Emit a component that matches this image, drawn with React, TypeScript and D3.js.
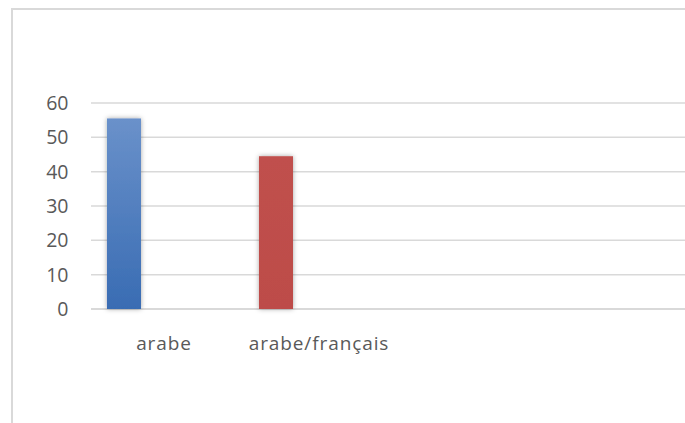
import React from "react";
import * as d3 from "d3";

const categories = ["arabe", "arabe/français"];
const values = [55.5, 44.5];
const barColors = ["blue", "red"];
const yTicks = [0, 10, 20, 30, 40, 50, 60];

const W = 685;
const H = 423;

export default function App() {
  const plotLeft = 91;
  const plotRight = 720;
  const x = d3
    .scaleBand<string>()
    .domain(categories)
    .range([88, 88 + 152 * categories.length])
    .paddingInner(0)
    .paddingOuter(0);
  // bar placement inside a category slot (first of several series slots)
  const slot = d3
    .scaleBand<string>()
    .domain(["s0", "s1", "s2"])
    .range([0, x.bandwidth()])
    .paddingInner(0)
    .paddingOuter(0.735)
    .align(0.38);
  const y = d3.scaleLinear().domain([0, 60]).range([309, 103]);

  const font = "'Open Sans', 'Liberation Sans', sans-serif";

  return (
    <svg
      width={W}
      height={H}
      style={{ position: "absolute", left: 0, top: 0, background: "#fff" }}
    >
      <defs>
        <linearGradient id="gBlue" x1="0" y1="0" x2="0" y2="1">
          <stop offset="0" stopColor="#6a91ca" />
          <stop offset="1" stopColor="#396cb3" />
        </linearGradient>
        <linearGradient id="gRed" x1="0" y1="0" x2="0" y2="1">
          <stop offset="0" stopColor="#c0504d" />
          <stop offset="1" stopColor="#bd4c49" />
        </linearGradient>
        <filter id="glow" x="-50%" y="-20%" width="200%" height="140%">
          <feDropShadow dx="0" dy="0" stdDeviation="2.5" floodColor="#000" floodOpacity="0.35" />
        </filter>
      </defs>
      <rect x={0} y={0} width={W} height={H} fill="#fff" />
      <rect
        x={12}
        y={9}
        width={800}
        height={600}
        fill="none"
        stroke="#d9d9d9"
        strokeWidth={2}
      />
      {yTicks.map((t) => (
        <g key={t}>
          <line
            x1={plotLeft}
            x2={plotRight}
            y1={y(t)}
            y2={y(t)}
            stroke="#d9d9d9"
            strokeWidth={t === 0 ? 2 : 1.5}
          />
          <text
            x={68.5}
            y={y(t)}
            dy="0.36em"
            textAnchor="end"
            fontFamily={font}
            fontSize={19.5}
            fill="#595959"
          >
            {t}
          </text>
        </g>
      ))}
      {categories.map((c, i) => {
        const bx = (x(c) as number) + (slot("s0") as number);
        const bw = slot.bandwidth();
        return (
          <rect
            key={c}
            x={bx}
            y={y(values[i])}
            width={bw}
            height={y(0) - y(values[i])}
            fill={barColors[i] === "blue" ? "url(#gBlue)" : "url(#gRed)"}
            filter="url(#glow)"
          />
        );
      })}
      {categories.map((c, i) => (
        <text
          key={c}
          x={(x(c) as number) + x.bandwidth() / 2 + i * 3}
          y={350}
          textAnchor="middle"
          fontFamily={font}
          fontSize={19}
          letterSpacing={0.9}
          fill="#595959"
        >
          {c}
        </text>
      ))}
    </svg>
  );
}
